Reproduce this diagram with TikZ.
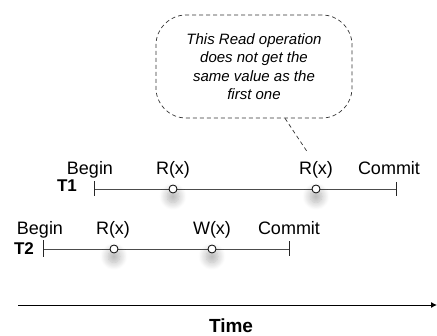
\documentclass[tikz,border=0pt]{standalone}
\usepackage{fontspec}
\setmainfont{Liberation Sans}
\usetikzlibrary{shadows.blur,arrows.meta}
\begin{document}
\begin{tikzpicture}[x=1pt,y=-1pt,
  lbl/.style={font=\fontsize{18}{20}\selectfont, inner sep=0pt, anchor=base},
  tname/.style={font=\fontsize{17}{20}\selectfont\bfseries, inner sep=0pt, anchor=base},
  tline/.style={draw=black!70, line width=0.9pt},
  tick/.style={draw=black!85, line width=0.9pt},
  event/.style={circle, draw=black, fill=white, line width=0.8pt,
    minimum size=8pt, inner sep=0pt,
    blur shadow={shadow xshift=0pt, shadow yshift=-5pt, shadow scale=1.5,
      shadow opacity=30, shadow blur radius=5pt, shadow blur steps=12}},
  note/.style={draw=black!80, dash pattern=on 4pt off 3pt, line width=0.7pt,
    rounded corners=30pt, minimum width=196pt, minimum height=103pt,
    align=center, font=\fontsize{15}{18.5}\selectfont\itshape},
  pointer/.style={draw=black!80, dash pattern=on 4pt off 3pt, line width=0.7pt},
]
\useasboundingbox (0,0) rectangle (437,336);

% transaction T1
\coordinate (t1s) at (94,189);
\coordinate (t1e) at (396,189);
\draw[tline] (t1s) -- (t1e);
\draw[tick] ([yshift=7.5pt]t1s) -- ([yshift=-7.5pt]t1s);
\draw[tick] ([yshift=7pt]t1e) -- ([yshift=-7pt]t1e);
\node[event] (r1a) at (173,189) {};
\node[event] (r1b) at (316,189) {};
\node[lbl] (b1) at (90,175) {Begin};
\node[tname] (n1) at (67,192) {T1};
\node[lbl] (lr1a) at (173,175) {R(x)};
\node[lbl] (lr1b) at (316,175) {R(x)};
\node[lbl] (c1) at (389,175) {Commit};

% transaction T2
\coordinate (t2s) at (43,249);
\coordinate (t2e) at (289,249);
\draw[tline] (t2s) -- (t2e);
\draw[tick] ([yshift=8.5pt]t2s) -- ([yshift=-8.5pt]t2s);
\draw[tick] ([yshift=7.5pt]t2e) -- ([yshift=-7.5pt]t2e);
\node[event] (r2) at (114,249) {};
\node[event] (w2) at (212,249) {};
\node[lbl] (b2) at (40,235) {Begin};
\node[tname] (n2) at (24,255) {T2};
\node[lbl] (lr2) at (113,235) {R(x)};
\node[lbl] (lw2) at (212,235) {W(x)};
\node[lbl] (c2) at (289,235) {Commit};

% callout
\node[note] (msg) at (254,66.5) {This Read operation\\does not get the\\same value as the\\first one};
\coordinate (tip) at (308,153);
\draw[pointer] ([xshift=31pt]msg.south) -- (tip);

% time axis
\coordinate (ts) at (18,305);
\coordinate (te) at (437,305);
\draw[line width=0.9pt, -{Latex[length=6pt,width=6pt]}] (ts) -- (te);
\node[font=\fontsize{19}{20}\selectfont\bfseries, inner sep=0pt, anchor=base] (time) at (231,333) {Time};
\end{tikzpicture}
\end{document}
